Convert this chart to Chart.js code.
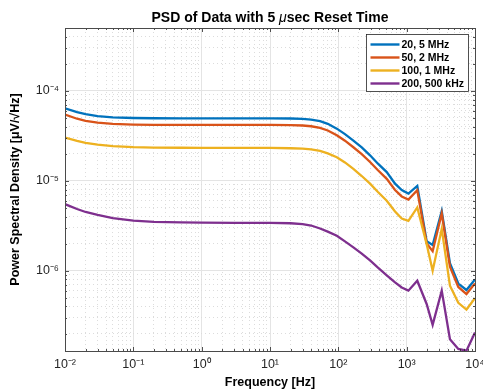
<!DOCTYPE html>
<html>
<head>
<meta charset="utf-8">
<script src="https://cdn.jsdelivr.net/npm/chart.js@4.4.1/dist/chart.umd.min.js"></script>
<style>
    html, body { margin: 0; padding: 0; background: #fff; }
    #wrap { width: 483px; height: 392px; }
</style>
</head>
<body>
<div id="wrap"><canvas id="psdChart" width="483" height="392"></canvas></div>
<script>
//============================
//  data
//============================
// frequency bins [Hz]
const freq = [0.01, 0.015, 0.02, 0.03, 0.05, 0.1, 0.2, 0.5, 1, 3,
    10, 20, 30, 40, 54, 70, 95, 125, 166, 220,
    291, 380, 511, 676, 847, 1060, 1430, 1960, 2400, 3260,
    4300, 5700, 7500, 10000];

// PSD [uV/sqrt(Hz)]
const psd20_5M = [6.4e-5, 5.8e-5, 5.5e-5, 5.25e-5, 5.07e-5, 4.99e-5, 4.96e-5, 4.95e-5, 4.95e-5, 4.95e-5,
    4.95e-5, 4.93e-5, 4.88e-5, 4.78e-5, 4.6e-5, 4.3e-5, 3.8e-5, 3.3e-5, 2.8e-5, 2.35e-5,
    1.92e-5, 1.55e-5, 1.25e-5, 9.3e-6, 7.9e-6, 7.2e-6, 8.75e-6, 2.13e-6, 1.93e-6, 4.62e-6,
    1.21e-6, 7.2e-7, 6.1e-7, 8.0e-7];
const psd50_2M = [5.45e-5, 4.9e-5, 4.65e-5, 4.44e-5, 4.29e-5, 4.22e-5, 4.19e-5, 4.18e-5, 4.18e-5, 4.18e-5,
    4.18e-5, 4.16e-5, 4.12e-5, 4.04e-5, 3.88e-5, 3.63e-5, 3.2e-5, 2.79e-5, 2.36e-5, 1.98e-5,
    1.62e-5, 1.31e-5, 1.05e-5, 7.9e-6, 6.7e-6, 6.19e-6, 7.85e-6, 2.01e-6, 1.65e-6, 4.33e-6,
    1.11e-6, 6.6e-7, 5.5e-7, 7.2e-7];
const psd100_1M = [3.03e-5, 2.78e-5, 2.64e-5, 2.52e-5, 2.43e-5, 2.37e-5, 2.34e-5, 2.33e-5, 2.32e-5, 2.32e-5,
    2.32e-5, 2.3e-5, 2.28e-5, 2.23e-5, 2.15e-5, 2.02e-5, 1.83e-5, 1.6e-5, 1.36e-5, 1.13e-5,
    9.3e-6, 7.5e-6, 6.0e-6, 4.55e-6, 3.8e-6, 3.58e-6, 5.05e-6, 1.98e-6, 1.0e-6, 2.92e-6,
    6.8e-7, 4.4e-7, 3.7e-7, 4.95e-7];
const psd200_500k = [5.5e-6, 4.85e-6, 4.5e-6, 4.18e-6, 3.85e-6, 3.6e-6, 3.5e-6, 3.44e-6, 3.42e-6, 3.4e-6,
    3.4e-6, 3.37e-6, 3.3e-6, 3.18e-6, 2.95e-6, 2.72e-6, 2.45e-6, 2.12e-6, 1.82e-6, 1.55e-6,
    1.3e-6, 1.08e-6, 8.9e-7, 7.4e-7, 6.5e-7, 6.0e-7, 7.74e-7, 4.27e-7, 2.5e-7, 6.0e-7,
    1.73e-7, 1.35e-7, 1.29e-7, 2.06e-7];

const seriesLabels = ['20, 5 MHz', '50, 2 MHz', '100, 1 MHz', '200, 500 kHz'];
const seriesColors = ['#0072BD', '#D95319', '#EDB120', '#7E2F8E'];

// axes
const xDecades = [-2, -1, 0, 1, 2, 3, 4];
const yDecades = [-7, -6, -5, -4];
const xLimits = [1e-2, 1e4];
const yLimits = [1.28e-7, 5e-4];

const FONT = '"Liberation Sans", Arial, Helvetica, sans-serif';
const SUP = { '-': '⁻', '0': '⁰', '1': '¹', '2': '²', '3': '³', '4': '⁴', '5': '⁵', '6': '⁶', '7': '⁷', '8': '⁸', '9': '⁹' };

function isDecade(v) {
    const e = Math.log10(v);
    return Math.abs(e - Math.round(e)) < 1e-6;
}

function decadeLabel(v) {
    if (!isDecade(v)) return '';
    return '10' + String(Math.round(Math.log10(v))).split('').map(c => SUP[c]).join('');
}

// 1..9 x 10^n ticks, like matlab's minor grid
function logTicks(decades, limits) {
    const out = [];
    decades.forEach(d => {
        for (let m = 1; m <= 9; m++) {
            const v = Number((m * Math.pow(10, d)).toPrecision(12));
            if (v >= limits[0] && v <= limits[1]) out.push({ value: v });
        }
    });
    return out;
}

//============================
//  frame, ticks, title, legend
//============================
const matlabAxes = {
    id: 'matlabAxes',
    afterDraw(chart) {
        const { ctx, chartArea: a } = chart;
        const xs = chart.scales.x, ys = chart.scales.y;
        ctx.save();

        // tick marks inside, all four sides
        ctx.strokeStyle = '#262626';
        ctx.lineWidth = 0.8;
        ctx.beginPath();
        xs.ticks.forEach(t => {
            const px = Math.round(xs.getPixelForValue(t.value)) + 0.5;
            const len = isDecade(t.value) ? 4 : 2;
            ctx.moveTo(px, a.bottom); ctx.lineTo(px, a.bottom - len);
            ctx.moveTo(px, a.top); ctx.lineTo(px, a.top + len);
        });
        ys.ticks.forEach(t => {
            const py = Math.round(ys.getPixelForValue(t.value)) + 0.5;
            const len = isDecade(t.value) ? 4 : 2;
            ctx.moveTo(a.left, py); ctx.lineTo(a.left + len, py);
            ctx.moveTo(a.right, py); ctx.lineTo(a.right - len, py);
        });
        ctx.stroke();

        // box
        ctx.strokeStyle = '#4a4a4a';
        ctx.lineWidth = 1;
        ctx.strokeRect(Math.round(a.left) + 0.5, Math.round(a.top) + 0.5,
            Math.round(a.right - a.left), Math.round(a.bottom - a.top));

        // title (mu in italic like TeX)
        const parts = [
            ['PSD of Data with 5 ', 'bold 14px ' + FONT],
            ['μ', 'italic 14px ' + FONT],
            ['sec Reset Time', 'bold 14px ' + FONT]
        ];
        let total = 0;
        parts.forEach(p => { ctx.font = p[1]; total += ctx.measureText(p[0]).width; });
        let tx = (a.left + a.right) / 2 - total / 2;
        ctx.fillStyle = '#000';
        ctx.textBaseline = 'alphabetic';
        ctx.textAlign = 'left';
        parts.forEach(p => {
            ctx.font = p[1];
            ctx.fillText(p[0], tx, 21.5);
            tx += ctx.measureText(p[0]).width;
        });

        // legend box
        const bw = 102, bh = 57;
        const bx = Math.round(a.right - 7 - bw) + 0.5;
        const by = Math.round(a.top + 6) + 0.5;
        ctx.fillStyle = '#fff';
        ctx.fillRect(bx, by, bw, bh);
        ctx.strokeStyle = '#262626';
        ctx.lineWidth = 0.8;
        ctx.strokeRect(bx, by, bw, bh);
        ctx.font = 'bold 10.5px ' + FONT;
        ctx.textBaseline = 'middle';
        chart.data.datasets.forEach((ds, i) => {
            const ry = by + 10 + i * 13;
            ctx.strokeStyle = ds.borderColor;
            ctx.lineWidth = 2.4;
            ctx.beginPath();
            ctx.moveTo(bx + 4, ry);
            ctx.lineTo(bx + 33, ry);
            ctx.stroke();
            ctx.fillStyle = '#000';
            ctx.fillText(ds.label, bx + 35, ry + 0.5);
        });
        ctx.restore();
    }
};

function makeSet(label, color, values, order) {
    return {
        label: label,
        data: freq.map((f, i) => ({ x: f, y: values[i] })),
        borderColor: color,
        backgroundColor: color,
        borderWidth: 2.3,
        pointRadius: 0,
        tension: 0,
        fill: false,
        order: order
    };
}

const gridColor = (c) => isDecade(c.tick.value) ? '#e4e4e4' : '#dcdcdc';
const gridDash = (c) => isDecade(c.tick.value) ? [] : [1, 3];

new Chart(document.getElementById('psdChart'), {
    type: 'line',
    data: {
        datasets: [
            makeSet(seriesLabels[0], seriesColors[0], psd20_5M, 4),
            makeSet(seriesLabels[1], seriesColors[1], psd50_2M, 3),
            makeSet(seriesLabels[2], seriesColors[2], psd100_1M, 2),
            makeSet(seriesLabels[3], seriesColors[3], psd200_500k, 1)
        ]
    },
    options: {
        responsive: false,
        animation: false,
        devicePixelRatio: 1,
        layout: { padding: { top: 28, right: 8, left: 0, bottom: 0 } },
        plugins: {
            legend: { display: false },
            title: { display: false },
            tooltip: { enabled: false }
        },
        scales: {
            x: {
                type: 'logarithmic',
                min: xLimits[0],
                max: xLimits[1],
                afterBuildTicks: (s) => { s.ticks = logTicks(xDecades, xLimits); },
                afterFit: (s) => { s.height = 41; s.paddingLeft = 0; s.paddingRight = 0; },
                ticks: {
                    autoSkip: false,
                    maxRotation: 0,
                    padding: 6,
                    color: '#262626',
                    font: { family: FONT, size: 12.5 },
                    callback: (v) => decadeLabel(v)
                },
                grid: { color: gridColor, lineWidth: 1, drawTicks: false },
                border: { display: false, dash: gridDash },
                title: {
                    display: true,
                    text: 'Frequency [Hz]',
                    color: '#000',
                    font: { family: FONT, size: 12.5, weight: 'bold' },
                    padding: { top: 0, bottom: 2 }
                }
            },
            y: {
                type: 'logarithmic',
                min: yLimits[0],
                max: yLimits[1],
                afterBuildTicks: (s) => { s.ticks = logTicks(yDecades, yLimits); },
                afterFit: (s) => { s.width = 65; s.paddingTop = 0; s.paddingBottom = 0; },
                ticks: {
                    autoSkip: false,
                    padding: 6,
                    color: '#262626',
                    font: { family: FONT, size: 12.5 },
                    callback: (v) => decadeLabel(v)
                },
                grid: { color: gridColor, lineWidth: 1, drawTicks: false },
                border: { display: false, dash: gridDash },
                title: {
                    display: true,
                    text: 'Power Spectral Density [μV/√Hz]',
                    color: '#000',
                    font: { family: FONT, size: 12.5, weight: 'bold' },
                    padding: { top: 8, bottom: 0 }
                }
            }
        }
    },
    plugins: [matlabAxes]
});
</script>
</body>
</html>
